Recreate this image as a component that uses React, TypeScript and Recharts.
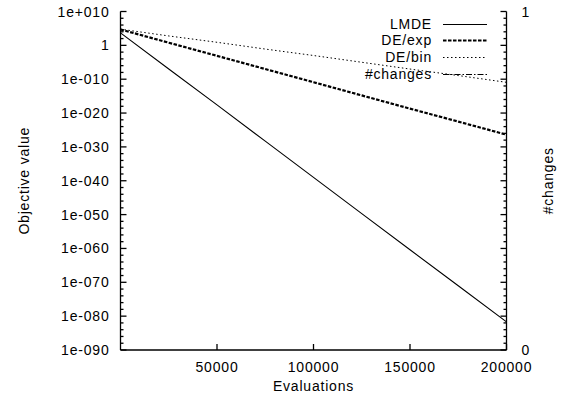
import React from 'react';
import { LineChart, Line, XAxis, YAxis, Legend } from 'recharts';

// ---- data ----
const evaluations = [0, 25000, 50000, 75000, 100000, 125000, 150000, 175000, 200000];
const lmdeValues = [5e3, 1e-7, 2.5e-18, 5e-29, 1e-39, 2e-50, 4e-61, 1e-71, 2e-82];
const deExpValues = [5e4, 6, 8e-4, 1e-7, 1.3e-11, 1.6e-15, 2e-19, 3e-23, 4e-27];
const deBinValues = [6e4, 6e2, 8, 8e-2, 1e-3, 1e-5, 1e-7, 1.2e-9, 1.2e-11];
const changesEvals = [0, 0];
const changesValues = [0, 1];
const xTicks = [50000, 100000, 150000, 200000];
const yExponents = [10, 8, 6, 4, 2, 0, -2, -4, -6, -8, -10, -12, -14, -16, -18, -20, -22, -24, -26, -28, -30,
  -32, -34, -36, -38, -40, -42, -44, -46, -48, -50, -52, -54, -56, -58, -60, -62, -64, -66, -68, -70,
  -72, -74, -76, -78, -80, -82, -84, -86, -88, -90];
const yTicks = yExponents.map((e) => Number('1e' + e));
const y2Ticks = [0, 1];
const seriesNames = ['LMDE', 'DE/exp', 'DE/bin', '#changes'];

const rows = evaluations.map((ev, i) => ({
  evals: ev,
  lmde: lmdeValues[i],
  deexp: deExpValues[i],
  debin: deBinValues[i],
}));
const changesRows = changesEvals.map((ev, i) => ({ evals: ev, changes: changesValues[i] }));

// ---- layout / style ----
const W = 569;
const H = 400;
const PL = 120.5;
const PR = 506.5;
const PT = 11.5;
const PB = 350;
const FONT = '"Liberation Sans", Arial, Helvetica, sans-serif';
const LS = 0.8;
const TW = 1.3;

const SERIES: Record<string, { w: number; dash?: string }> = {
  LMDE: { w: 1.1 },
  'DE/exp': { w: 2.2, dash: '3.5 1.5' },
  'DE/bin': { w: 1, dash: '1.5 2.5' },
  '#changes': { w: 1, dash: '6 2 1.5 2' },
};

const fmtExp = (e: number) =>
  e === 0 ? '1' : '1e' + (e > 0 ? '+' : '-') + String(Math.abs(e)).padStart(3, '0');

const YTick = (props: any) => {
  const { y, payload } = props;
  const e = Math.round(Math.log10(payload.value));
  const major = e % 10 === 0;
  const len = major ? 6 : 3;
  return (
    <g>
      <path d={`M${PL},${y}h${len}`} stroke="#000" strokeWidth={TW} fill="none" />
      <path d={`M${PR},${y}h${-len}`} stroke="#000" strokeWidth={TW} fill="none" />
      {major && (
        <text x={PL - 11} y={y} dy={5} textAnchor="end" fontSize={14} fill="#000"
          style={{ fontFamily: FONT, letterSpacing: LS }}>
          {fmtExp(e)}
        </text>
      )}
    </g>
  );
};

const Y2Tick = (props: any) => {
  const { y, payload } = props;
  return (
    <text x={PR + 15} y={y} dy={5} textAnchor="start" fontSize={14} fill="#000"
      style={{ fontFamily: FONT, letterSpacing: LS }}>
      {String(payload.value)}
    </text>
  );
};

const XTick = (props: any) => {
  const { x, payload } = props;
  return (
    <g>
      <path d={`M${x},${PB}v-6`} stroke="#000" strokeWidth={TW} fill="none" />
      <text x={x} y={PB + 22} textAnchor="middle" fontSize={14} fill="#000"
        style={{ fontFamily: FONT, letterSpacing: LS }}>
        {String(payload.value)}
      </text>
    </g>
  );
};

const TopTick = (props: any) => {
  const { x } = props;
  return <path d={`M${x},${PT}v6`} stroke="#000" strokeWidth={TW} fill="none" />;
};

const renderLegend = (props: any) => {
  const items = [...(props.payload || [])].sort(
    (a: any, b: any) => seriesNames.indexOf(String(a.value)) - seriesNames.indexOf(String(b.value)),
  );
  return (
    <div style={{ position: 'relative', width: W, height: items.length * 16.7, fontFamily: FONT }}>
      {items.map((it: any, i: number) => {
        const name = String(it.value);
        const st = SERIES[name] || { w: 1 };
        return (
          <div key={name} style={{ position: 'absolute', top: i * 16.7, left: 0, width: W, height: 16.7 }}>
            <span style={{ position: 'absolute', right: W - 432, top: 0, lineHeight: '16.7px', fontSize: 14,
              color: '#000', letterSpacing: LS, whiteSpace: 'nowrap' }}>{name}</span>
            <svg style={{ position: 'absolute', left: 443, top: 0 }} width={45} height={16.7}>
              <line x1={0} x2={44} y1={8.5} y2={8.5} stroke="#000" strokeWidth={st.w}
                strokeDasharray={st.dash} />
            </svg>
          </div>
        );
      })}
    </div>
  );
};

export default function App() {
  return (
    <div style={{ position: 'absolute', left: 0, top: 0, width: W, height: H, background: '#fff' }}>
      <LineChart width={W} height={H} data={rows} margin={{ top: PT, right: 0, bottom: 0, left: 0 }}
        style={{ fontFamily: FONT }}>
        <XAxis dataKey="evals" type="number" domain={[0, 200000]} ticks={xTicks} interval={0} height={H - PB}
          tick={(p: any) => <XTick {...p} />} tickLine={false} axisLine={{ stroke: '#000', strokeWidth: TW }}
          allowDataOverflow
          label={{
            content: (p: any) => (
              <text x={(PL + PR) / 2} y={PB + 41} textAnchor="middle" fontSize={14} fill="#000"
                style={{ fontFamily: FONT, letterSpacing: LS }}>Evaluations</text>
            ),
          }} />
        <XAxis xAxisId="top" orientation="top" dataKey="evals" type="number" domain={[0, 200000]} ticks={xTicks}
          interval={0} height={0} tick={(p: any) => <TopTick {...p} />} tickLine={false}
          axisLine={{ stroke: '#000', strokeWidth: TW }} allowDataOverflow />
        <YAxis yAxisId="left" scale="log" domain={[1e-90, 1e10]} ticks={yTicks} interval={0} width={PL}
          tick={(p: any) => <YTick {...p} />} tickLine={false} axisLine={{ stroke: '#000', strokeWidth: TW }}
          allowDataOverflow
          label={{
            content: (p: any) => (
              <text x={24} y={(PT + PB) / 2} textAnchor="middle" dominantBaseline="central" fontSize={14} fill="#000"
                transform={`rotate(-90, 24, ${(PT + PB) / 2})`} style={{ fontFamily: FONT, letterSpacing: LS }}>
                Objective value
              </text>
            ),
          }} />
        <YAxis yAxisId="right" orientation="right" domain={[0, 1]} ticks={y2Ticks} interval={0} width={W - PR}
          tick={(p: any) => <Y2Tick {...p} />} tickLine={false} axisLine={{ stroke: '#000', strokeWidth: TW }}
          label={{
            content: (p: any) => (
              <text x={548} y={(PT + PB) / 2} textAnchor="middle" dominantBaseline="central" fontSize={14} fill="#000"
                transform={`rotate(-90, 548, ${(PT + PB) / 2})`} style={{ fontFamily: FONT, letterSpacing: LS }}>
                #changes
              </text>
            ),
          }} />
        <Legend layout="horizontal" verticalAlign="middle" align="center" content={renderLegend}
          wrapperStyle={{ position: 'absolute', left: 0, top: 15.5, width: W }} />
        <Line yAxisId="left" dataKey="lmde" name="LMDE" stroke="#000" strokeWidth={SERIES['LMDE'].w}
          dot={false} activeDot={false} isAnimationActive={false} />
        <Line yAxisId="left" dataKey="deexp" name="DE/exp" stroke="#000" strokeWidth={SERIES['DE/exp'].w}
          strokeDasharray={SERIES['DE/exp'].dash} dot={false} activeDot={false} isAnimationActive={false} />
        <Line yAxisId="left" dataKey="debin" name="DE/bin" stroke="#000" strokeWidth={SERIES['DE/bin'].w}
          strokeDasharray={SERIES['DE/bin'].dash} dot={false} activeDot={false} isAnimationActive={false} />
        <Line yAxisId="right" data={changesRows} dataKey="changes" name="#changes" stroke="#000"
          strokeWidth={SERIES['#changes'].w} strokeDasharray={SERIES['#changes'].dash} dot={false}
          activeDot={false} isAnimationActive={false} />
      </LineChart>
    </div>
  );
}
